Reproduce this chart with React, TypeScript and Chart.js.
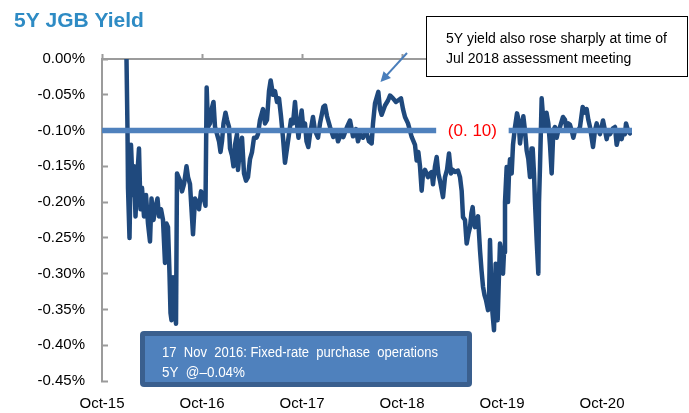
import React, { useEffect, useRef } from 'react';
import { Chart, registerables } from 'chart.js';

Chart.register(...registerables);

// ---------- data ----------
const chartTitle = '5Y JGB Yield';

// months elapsed since end-Oct 2015
const months = [
  2.94, 3.06, 3.12, 3.3, 3.48, 3.72, 3.84, 4.02, 4.2, 4.44, 4.62, 4.8, 5.04, 5.28, 5.52, 5.76, 5.94, 6.18, 6.36, 6.66,
  6.84, 7.08, 7.32, 7.56, 7.74, 7.92, 8.1, 8.22, 8.34, 8.52, 8.7, 8.88, 9.0, 9.18, 9.36, 9.6, 9.84, 10.14, 10.32, 10.56,
  10.74, 10.92, 11.16, 11.4, 11.64, 11.88, 12.12, 12.42, 12.56, 12.72, 12.96, 13.2, 13.38, 13.56, 13.8, 14.04, 14.22, 14.4, 14.58, 14.82,
  15.0, 15.24, 15.36, 15.6, 15.78, 15.96, 16.2, 16.32, 16.56, 16.8, 17.04, 17.28, 17.52, 17.76, 18.0, 18.24, 18.54, 18.72, 18.96, 19.32,
  19.56, 19.8, 20.04, 20.24, 20.52, 20.76, 21.0, 21.24, 21.48, 21.72, 21.96, 22.2, 22.44, 22.68, 22.92, 23.16, 23.34, 23.58, 23.76, 23.96,
  24.18, 24.36, 24.54, 24.76, 24.96, 25.32, 25.56, 25.92, 26.16, 26.56, 26.76, 27.0, 27.36, 27.76, 28.08, 28.32, 28.68, 28.96, 29.4, 29.76,
  30.12, 30.48, 30.72, 30.96, 31.32, 31.68, 32.04, 32.36, 32.52, 32.76, 33.16, 33.36, 33.56, 33.96, 34.32, 34.56, 34.92, 35.28, 35.52, 35.88,
  36.12, 36.36, 36.72, 37.16, 37.56, 37.76, 37.96, 38.16, 38.36, 38.52, 38.76, 39.12, 39.36, 39.56, 39.72, 39.96, 40.16, 40.36, 40.56, 40.92,
  41.16, 41.4, 41.64, 41.88, 42.12, 42.36, 42.72, 42.96, 43.16, 43.32, 43.56, 43.76, 43.96, 44.16, 44.34, 44.48, 44.64, 44.76, 44.94, 45.12,
  45.36, 45.54, 45.72, 45.9, 46.08, 46.32, 46.44, 46.56, 46.74, 46.86, 47.04, 47.24, 47.34, 47.48, 47.64, 47.76, 47.94, 48.12, 48.24, 48.36,
  48.56, 48.72, 48.84, 48.96, 49.16, 49.32, 49.56, 49.8, 49.98, 50.16, 50.34, 50.56, 50.76, 50.96, 51.16, 51.36, 51.54, 51.68, 51.84, 51.96,
  52.16, 52.36, 52.44, 52.56, 52.76, 52.92, 53.16, 53.34, 53.56, 53.76, 53.96, 54.16, 54.36, 54.56, 54.76, 54.96, 55.32, 55.56, 55.76, 55.96,
  56.16, 56.36, 56.56, 56.76, 57.12, 57.36, 57.68, 57.96, 58.16, 58.36, 58.56, 58.92, 59.16, 59.36, 59.56, 59.76, 60.12, 60.36, 60.56, 60.76,
  60.96, 61.32, 61.56, 61.76, 61.96, 62.16, 62.36, 62.56, 62.76, 62.88, 63.12, 63.36,
];

// 5Y JGB yield, %
const yields = [
  0.0, -0.1, -0.18, -0.25, -0.12, -0.19, -0.15, -0.22, -0.17, -0.125, -0.21, -0.18, -0.22, -0.19, -0.23, -0.255, -0.195, -0.225, -0.21, -0.195,
  -0.22, -0.21, -0.225, -0.285, -0.23, -0.235, -0.3, -0.355, -0.365, -0.305, -0.34, -0.37, -0.16, -0.165, -0.17, -0.185, -0.175, -0.15, -0.165, -0.175,
  -0.21, -0.245, -0.195, -0.2, -0.21, -0.185, -0.19, -0.205, -0.04, -0.095, -0.09, -0.068, -0.06, -0.095, -0.105, -0.115, -0.13, -0.115, -0.09, -0.075,
  -0.085, -0.095, -0.125, -0.135, -0.15, -0.12, -0.105, -0.155, -0.125, -0.11, -0.16, -0.17, -0.165, -0.14, -0.13, -0.11, -0.11, -0.105, -0.085, -0.07,
  -0.09, -0.085, -0.045, -0.03, -0.05, -0.045, -0.06, -0.055, -0.08, -0.11, -0.145, -0.125, -0.105, -0.085, -0.09, -0.06, -0.085, -0.11, -0.09, -0.072,
  -0.1, -0.09, -0.115, -0.123, -0.105, -0.081, -0.1, -0.11, -0.09, -0.067, -0.065, -0.08, -0.095, -0.109, -0.1, -0.115, -0.105, -0.109, -0.095, -0.086,
  -0.108, -0.098, -0.115, -0.105, -0.11, -0.1, -0.115, -0.118, -0.09, -0.062, -0.046, -0.07, -0.078, -0.065, -0.058, -0.051, -0.055, -0.06, -0.058, -0.055,
  -0.07, -0.081, -0.09, -0.109, -0.12, -0.142, -0.13, -0.15, -0.184, -0.16, -0.155, -0.165, -0.16, -0.158, -0.175, -0.15, -0.137, -0.16, -0.17, -0.193,
  -0.165, -0.155, -0.132, -0.16, -0.155, -0.158, -0.156, -0.165, -0.184, -0.221, -0.225, -0.258, -0.245, -0.235, -0.215, -0.207, -0.23, -0.235, -0.225, -0.22,
  -0.267, -0.295, -0.318, -0.33, -0.337, -0.351, -0.34, -0.253, -0.33, -0.355, -0.379, -0.286, -0.32, -0.365, -0.3, -0.258, -0.27, -0.3, -0.27, -0.2,
  -0.151, -0.2, -0.16, -0.14, -0.16, -0.12, -0.095, -0.076, -0.085, -0.118, -0.1, -0.08, -0.1, -0.128, -0.14, -0.165, -0.125, -0.125, -0.16, -0.2,
  -0.253, -0.3, -0.2, -0.15, -0.055, -0.08, -0.1, -0.075, -0.09, -0.12, -0.16, -0.1, -0.095, -0.11, -0.1, -0.095, -0.081, -0.085, -0.1, -0.09,
  -0.092, -0.1, -0.11, -0.1, -0.1, -0.095, -0.067, -0.075, -0.07, -0.085, -0.095, -0.123, -0.1, -0.09, -0.1, -0.105, -0.086, -0.1, -0.112, -0.1,
  -0.105, -0.097, -0.095, -0.12, -0.11, -0.104, -0.112, -0.1, -0.105, -0.09, -0.1, -0.104,
];

const xTickLabels = ['Oct-15', 'Oct-16', 'Oct-17', 'Oct-18', 'Oct-19', 'Oct-20'];
const xTickMonths = [0, 12, 24, 36, 48, 60];
const yTickValues = [0, -0.05, -0.1, -0.15, -0.2, -0.25, -0.3, -0.35, -0.4, -0.45];

const refLevel = -0.1;
const refSegments = [
  [0, 40.1],
  [48.8, 63.6],
];
const refLabel = '(0. 10)';

const calloutLines = ['5Y yield also rose sharply at time of', 'Jul 2018 assessment meeting'];
const noteLines = ['17  Nov  2016: Fixed-rate  purchase  operations', '5Y  @\u20130.04%'];

// ---------- styles ----------
const SANS = "'Liberation Sans', Arial, sans-serif";
const AXIS_GRAY = '#9B9B9B';

const annotationPlugin = {
  id: 'jgbAnnotations',
  afterDatasetsDraw(chart: any) {
    const ctx = chart.ctx as CanvasRenderingContext2D;
    const xs = chart.scales.x;
    const ys = chart.scales.y;
    const gapMid = (refSegments[0][1] + refSegments[1][0]) / 2;
    ctx.save();
    ctx.fillStyle = '#FF0000';
    ctx.font = `17px ${SANS}`;
    ctx.textAlign = 'center';
    ctx.textBaseline = 'middle';
    ctx.fillText(refLabel, xs.getPixelForValue(gapMid), ys.getPixelForValue(refLevel) + 1);
    ctx.restore();
  },
  afterDraw(chart: any) {
    const ctx = chart.ctx as CanvasRenderingContext2D;
    ctx.save();

    // callout box (top right)
    ctx.fillStyle = '#FFFFFF';
    ctx.fillRect(426.5, 16.5, 261, 60);
    ctx.strokeStyle = '#000000';
    ctx.lineWidth = 1;
    ctx.strokeRect(426.5, 16.5, 261, 60);
    ctx.fillStyle = '#000000';
    ctx.font = `14px ${SANS}`;
    ctx.textAlign = 'left';
    ctx.textBaseline = 'alphabetic';
    ctx.fillText(calloutLines[0], 446, 43);
    ctx.fillText(calloutLines[1], 446, 62.5);

    // arrow
    const sx = 407, sy = 53, tx = 380.5, ty = 82;
    const ang = Math.atan2(ty - sy, tx - sx);
    ctx.strokeStyle = '#4A7EBB';
    ctx.fillStyle = '#4A7EBB';
    ctx.lineWidth = 2;
    ctx.beginPath();
    ctx.moveTo(sx, sy);
    ctx.lineTo(tx - 7 * Math.cos(ang), ty - 7 * Math.sin(ang));
    ctx.stroke();
    ctx.beginPath();
    ctx.moveTo(tx, ty);
    ctx.lineTo(tx - 10 * Math.cos(ang) + 5 * Math.sin(ang), ty - 10 * Math.sin(ang) - 5 * Math.cos(ang));
    ctx.lineTo(tx - 10 * Math.cos(ang) - 5 * Math.sin(ang), ty - 10 * Math.sin(ang) + 5 * Math.cos(ang));
    ctx.closePath();
    ctx.fill();

    // note box (bottom)
    const rr = (x: number, y: number, w: number, h: number, r: number) => {
      ctx.beginPath();
      ctx.moveTo(x + r, y);
      ctx.lineTo(x + w - r, y);
      ctx.quadraticCurveTo(x + w, y, x + w, y + r);
      ctx.lineTo(x + w, y + h - r);
      ctx.quadraticCurveTo(x + w, y + h, x + w - r, y + h);
      ctx.lineTo(x + r, y + h);
      ctx.quadraticCurveTo(x, y + h, x, y + h - r);
      ctx.lineTo(x, y + r);
      ctx.quadraticCurveTo(x, y, x + r, y);
      ctx.closePath();
    };
    ctx.fillStyle = '#3A5F8E';
    rr(140, 331, 332, 56, 4);
    ctx.fill();
    ctx.fillStyle = '#4F81BD';
    ctx.fillRect(145, 336, 322, 46);
    ctx.fillStyle = '#FFFFFF';
    ctx.font = `14px ${SANS}`;
    ctx.textAlign = 'left';
    ctx.textBaseline = 'alphabetic';
    ctx.fillText(noteLines[0], 162, 357, 276);
    ctx.fillText(noteLines[1], 162, 377, 83);

    ctx.restore();
  },
};

export default function App() {
  const canvasRef = useRef<HTMLCanvasElement>(null);

  useEffect(() => {
    const canvas = canvasRef.current;
    if (!canvas) return;

    const series = months.map((m, i) => ({ x: m, y: yields[i] }));
    const refData: { x: number; y: number | null }[] = [];
    refSegments.forEach((seg, i) => {
      if (i > 0) refData.push({ x: (refSegments[i - 1][1] + seg[0]) / 2, y: null });
      refData.push({ x: seg[0], y: refLevel });
      refData.push({ x: seg[1], y: refLevel });
    });
    const xMax = refSegments[refSegments.length - 1][1];

    const chart = new Chart(canvas, {
      type: 'line',
      data: {
        datasets: [
          {
            label: 'ref',
            data: refData as any,
            borderColor: '#4F81BD',
            borderWidth: 5.5,
            pointRadius: 0,
            spanGaps: false,
            borderCapStyle: 'butt',
            xAxisID: 'x',
            yAxisID: 'y',
          },
          {
            label: '5Y JGB',
            data: series,
            borderColor: '#1F497D',
            borderWidth: 4.5,
            pointRadius: 0,
            tension: 0,
            borderJoinStyle: 'round',
            borderCapStyle: 'round',
            xAxisID: 'x',
            yAxisID: 'y',
          },
        ],
      },
      options: {
        responsive: false,
        maintainAspectRatio: false,
        animation: false,
        devicePixelRatio: 1,
        events: [],
        layout: { padding: { left: 14, right: 689 - 632, top: 0, bottom: 0 } },
        plugins: {
          legend: { display: false },
          tooltip: { enabled: false },
          title: {
            display: true,
            text: chartTitle,
            align: 'start',
            color: '#2E8BC4',
            font: { family: SANS, size: 21, weight: 'bold' },
            padding: { top: 8.2, bottom: 19.6 },
          },
        },
        scales: {
          x: {
            type: 'linear',
            position: 'top',
            min: 0,
            max: xMax,
            afterBuildTicks: (s: any) => {
              s.ticks = xTickMonths.map((v) => ({ value: v }));
            },
            border: { display: true, color: AXIS_GRAY, width: 2 },
            grid: { display: true, drawOnChartArea: false, drawTicks: true, tickLength: 5, tickColor: AXIS_GRAY, tickWidth: 2 },
            ticks: { display: false },
            afterFit: (s: any) => {
              s.height = 6;
            },
          },
          xb: {
            type: 'linear',
            position: 'bottom',
            min: 0,
            max: xMax,
            afterBuildTicks: (s: any) => {
              s.ticks = xTickMonths.map((v) => ({ value: v }));
            },
            border: { display: false },
            grid: { display: false, drawTicks: false },
            ticks: {
              autoSkip: false,
              maxRotation: 0,
              padding: 14,
              color: '#000000',
              font: { family: SANS, size: 15 },
              callback: (v: any) => xTickLabels[xTickMonths.indexOf(Number(v))] ?? '',
            },
            afterFit: (s: any) => {
              s.height = 32;
            },
          },
          y: {
            type: 'linear',
            position: 'left',
            min: -0.45,
            max: 0,
            afterBuildTicks: (s: any) => {
              s.ticks = yTickValues.map((v) => ({ value: v }));
            },
            border: { display: true, color: AXIS_GRAY, width: 2 },
            grid: { display: true, drawOnChartArea: false, drawTicks: true, tickLength: -6, tickColor: AXIS_GRAY, tickWidth: 2 },
            ticks: {
              padding: 23,
              color: '#000000',
              font: { family: SANS, size: 15 },
              callback: (v: any) => Number(v).toFixed(2) + '%',
            },
            afterFit: (s: any) => {
              s.width = 88;
            },
          },
        },
      },
      plugins: [annotationPlugin],
    } as any);

    return () => chart.destroy();
  }, []);

  return (
    <div style={{ position: 'fixed', left: 0, top: 0, width: 689, height: 413, background: '#FFFFFF' }}>
      <canvas ref={canvasRef} width={689} height={413} style={{ display: 'block', width: 689, height: 413 }} />
    </div>
  );
}
